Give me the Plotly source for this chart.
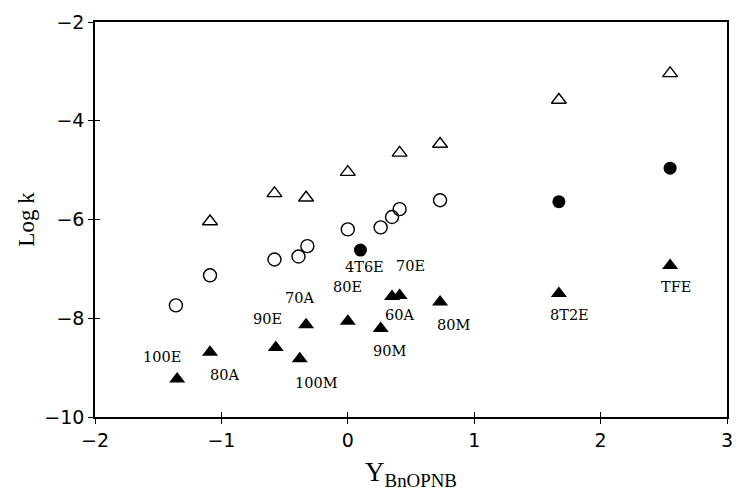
import plotly.graph_objects as go

# ---- data ----
open_tri_x = [-1.09, -0.58, -0.33, 0.00, 0.41, 0.73, 1.67, 2.55]
open_tri_y = [-6.04, -5.47, -5.56, -5.04, -4.65, -4.47, -3.58, -3.04]

open_circ_x = [-1.36, -1.09, -0.58, -0.39, -0.32, 0.00, 0.26, 0.35, 0.41, 0.73]
open_circ_y = [-7.74, -7.13, -6.81, -6.75, -6.54, -6.20, -6.16, -5.95, -5.79, -5.61]

filled_circ_labels = ["4T6E", "", ""]
filled_circ_x = [0.10, 1.67, 2.55]
filled_circ_y = [-6.62, -5.64, -4.96]

solvents = ["100E", "80A", "90E", "100M", "70A", "80E", "90M", "60A", "70E", "80M", "8T2E", "TFE"]
filled_tri_x = [-1.35, -1.09, -0.57, -0.38, -0.33, 0.00, 0.26, 0.35, 0.41, 0.73, 1.67, 2.55]
filled_tri_y = [-9.23, -8.69, -8.59, -8.82, -8.13, -8.06, -8.21, -7.56, -7.54, -7.67, -7.50, -6.93]

x_ticks = [-2, -1, 0, 1, 2, 3]
y_ticks = [-10, -8, -6, -4, -2]

# label offsets in pixels (dx right, dy up)
label_offsets = {
    "100E": (-15, 22), "80A": (14, -23), "90E": (-8, 28), "100M": (17, -24),
    "70A": (-7, 27), "80E": (0, 34), "90M": (9, -22), "60A": (7, -18),
    "70E": (11, 30), "80M": (13, -23), "8T2E": (11, -21), "TFE": (6, -22),
    "4T6E": (4, -17),
}

fig = go.Figure()

fig.add_trace(go.Scatter(
    x=open_tri_x, y=open_tri_y, mode="markers",
    marker=dict(symbol="triangle-up-open", size=13, color="black", line=dict(width=1.4)),
    showlegend=False, hoverinfo="x+y"))
fig.add_trace(go.Scatter(
    x=open_circ_x, y=open_circ_y, mode="markers",
    marker=dict(symbol="circle-open", size=13, color="black", line=dict(width=1.4)),
    showlegend=False, hoverinfo="x+y"))
fig.add_trace(go.Scatter(
    x=filled_circ_x, y=filled_circ_y, mode="markers",
    marker=dict(symbol="circle", size=13, color="black"),
    showlegend=False, hoverinfo="x+y"))
fig.add_trace(go.Scatter(
    x=filled_tri_x, y=filled_tri_y, mode="markers",
    marker=dict(symbol="triangle-up", size=14, color="black"),
    showlegend=False, hoverinfo="x+y"))
# invisible trace on overlay axes (for inward tick marks)
fig.add_trace(go.Scatter(
    x=filled_tri_x, y=filled_tri_y, mode="markers", xaxis="x2", yaxis="y2",
    marker=dict(size=1, opacity=0), showlegend=False, hoverinfo="skip"))

label_font = dict(family="DejaVu Serif", size=14.5, color="black")
for name, x, y in zip(solvents, filled_tri_x, filled_tri_y):
    dx, dy = label_offsets[name]
    fig.add_annotation(x=x, y=y, text=name, showarrow=False, xshift=dx, yshift=dy, font=label_font)
for name, x, y in zip(filled_circ_labels, filled_circ_x, filled_circ_y):
    if name:
        dx, dy = label_offsets[name]
        fig.add_annotation(x=x, y=y, text=name, showarrow=False, xshift=dx, yshift=dy, font=label_font)

tick_font = dict(family="DejaVu Sans, sans-serif", size=19, color="black")
axis_common = dict(showgrid=False, zeroline=False, showline=True, linecolor="black",
                   linewidth=1.5, ticks="outside", ticklen=5, tickwidth=1.3, tickcolor="black")

fig.update_layout(
    width=739, height=491,
    margin=dict(l=95, r=6, t=22, b=74),
    paper_bgcolor="white", plot_bgcolor="white",
    xaxis=dict(range=[-2, 3], tickvals=x_ticks, mirror=True, tickfont=tick_font,
               title=dict(text="Y<sub>BnOPNB</sub>",
                          font=dict(family="Liberation Serif, Times New Roman, serif", size=27, color="black"),
                          standoff=14),
               **axis_common),
    yaxis=dict(range=[-10, -2], tickvals=y_ticks, mirror=True, tickfont=tick_font,
               title=dict(text="Log k",
                          font=dict(family="Liberation Serif, Times New Roman, serif", size=23, color="black"),
                          standoff=3),
               **axis_common),
    xaxis2=dict(overlaying="x", matches="x", range=[-2, 3], tickvals=x_ticks, showticklabels=False,
                ticks="inside", ticklen=5, tickwidth=1.3, tickcolor="black", showgrid=False,
                zeroline=False, showline=False),
    yaxis2=dict(overlaying="y", matches="y", range=[-10, -2], tickvals=y_ticks, showticklabels=False,
                ticks="inside", ticklen=5, tickwidth=1.3, tickcolor="black", showgrid=False,
                zeroline=False, showline=False),
)

fig.write_html("out.html")
